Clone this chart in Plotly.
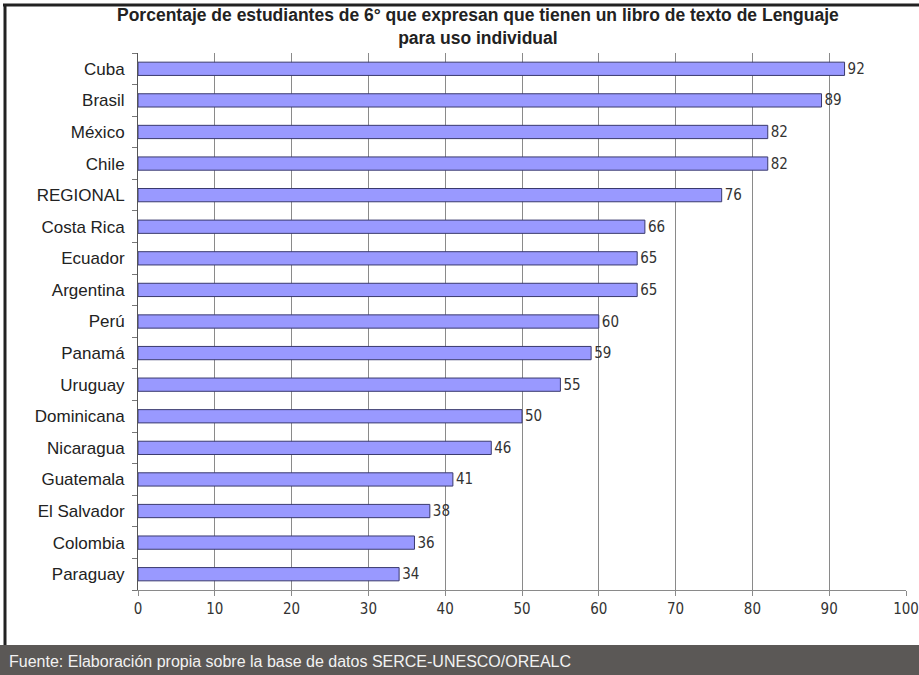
import plotly.graph_objects as go

# Data: percentage of 6th-grade students with their own Language textbook
paises = ["Cuba", "Brasil", "México", "Chile", "REGIONAL", "Costa Rica", "Ecuador",
          "Argentina", "Perú", "Panamá", "Uruguay", "Dominicana", "Nicaragua",
          "Guatemala", "El Salvador", "Colombia", "Paraguay"]
porcentajes = [92, 89, 82, 82, 76, 66, 65, 65, 60, 59, 55, 50, 46, 41, 38, 36, 34]
ticks_x = [0, 10, 20, 30, 40, 50, 60, 70, 80, 90, 100]

titulo = ("<b>Porcentaje de estudiantes de 6° que expresan que tienen un libro de texto de Lenguaje"
          "<br>para uso individual</b>")
fuente = "Fuente: Elaboración propia sobre la base de datos SERCE-UNESCO/OREALC"

COND = "DejaVu Sans Condensed, Liberation Sans Narrow, Arial Narrow, Liberation Sans, sans-serif"
SANS = "Liberation Sans, Arial, sans-serif"

W, H = 919, 675
ML, MR, MT, MB = 138, 13, 53, 85
PW, PH = W - ML - MR, H - MT - MB


def px_x(p):
    """Horizontal pixel position -> paper coordinate."""
    return (p - ML) / PW


def px_y(p):
    """Vertical pixel position (from top) -> paper coordinate."""
    return (H - MB - p) / PH


fig = go.Figure()
fig.add_trace(go.Bar(
    x=porcentajes,
    y=paises,
    orientation="h",
    width=0.42,
    marker=dict(color="#9999ff", line=dict(color="#3a3a6e", width=1)),
    text=[str(v) for v in porcentajes],
    textposition="outside",
    constraintext="none",
    textfont=dict(family=COND, size=15, color="#333333"),
    cliponaxis=False,
    hoverinfo="x+y",
))

fig.update_layout(
    width=W, height=H,
    margin=dict(l=ML, r=MR, t=MT, b=MB),
    paper_bgcolor="white",
    plot_bgcolor="white",
    showlegend=False,
    xaxis=dict(
        range=[0, 100],
        tickvals=ticks_x,
        ticktext=[str(t) for t in ticks_x],
        showgrid=True, gridcolor="#8a8a8a", gridwidth=1,
        showline=True, linecolor="#8a8a8a", linewidth=1,
        ticks="outside", ticklen=5, tickcolor="#8a8a8a",
        tickfont=dict(family=COND, size=15, color="#333333"),
        ticklabelstandoff=0,
        zeroline=False,
        automargin=False,
        fixedrange=True,
    ),
    yaxis=dict(
        categoryorder="array",
        categoryarray=paises[::-1],
        showline=True, linecolor="#555555", linewidth=1,
        ticks="outside", ticklen=5, tickcolor="#777777",
        tickson="boundaries",
        showgrid=False,
        tickfont=dict(family=SANS, size=17, color="#222222"),
        ticklabelstandoff=9,
        automargin=False,
        fixedrange=True,
    ),
    shapes=[
        # frame around the chart
        dict(type="line", xref="paper", yref="paper", x0=px_x(3), x1=px_x(W),
             y0=px_y(5), y1=px_y(5), line=dict(color="#222222", width=3)),
        dict(type="line", xref="paper", yref="paper", x0=px_x(5), x1=px_x(5),
             y0=px_y(H), y1=px_y(4), line=dict(color="#222222", width=3)),
        # source footer band
        dict(type="rect", xref="paper", yref="paper", x0=px_x(0), x1=px_x(W),
             y0=px_y(H), y1=px_y(645), fillcolor="#5b5856", line=dict(width=0),
             layer="above"),
    ],
    annotations=[
        dict(text=titulo, xref="paper", yref="paper", x=px_x(478), y=px_y(27),
             xanchor="center", yanchor="middle", showarrow=False,
             font=dict(family=SANS, size=17.5, color="#222222")),
        dict(text=fuente, xref="paper", yref="paper", x=px_x(7), y=px_y(661),
             xanchor="left", yanchor="middle", showarrow=False,
             font=dict(family=SANS, size=16, color="#f2f2f2")),
    ],
)

fig.write_html("out.html")
